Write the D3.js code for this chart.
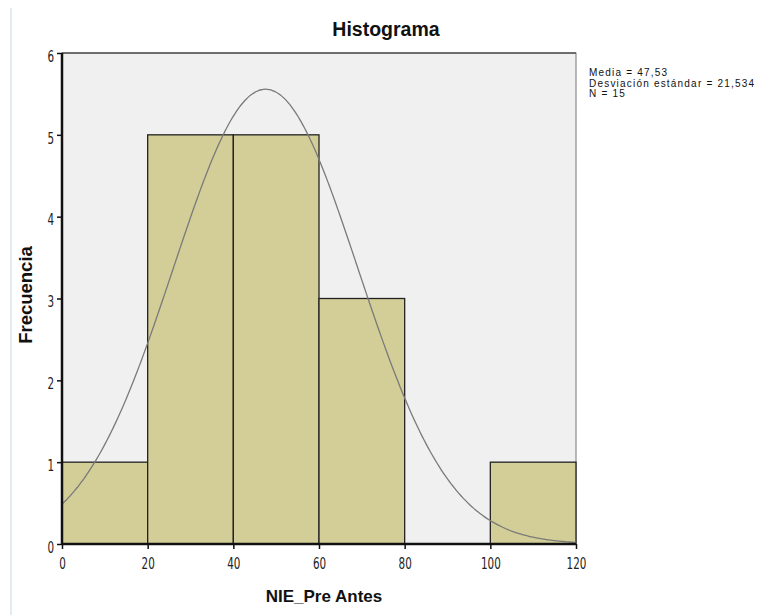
<!DOCTYPE html>
<html><head><meta charset="utf-8">
<script src="https://cdn.jsdelivr.net/npm/d3@7"></script>
<style>body{margin:0;background:#fff}</style>
</head><body>
<svg id="c" width="765" height="615"></svg>
<script>
const binStarts = [0, 20, 40, 60, 80, 100];
const binWidth = 20;
const counts = [1, 5, 5, 3, 0, 1];
const xTicks = [0, 20, 40, 60, 80, 100, 120];
const yTicks = [0, 1, 2, 3, 4, 5, 6];
const mean = 47.53, sd = 21.534, n = 15;
const statsLines = ["Media = 47,53", "Desviación estándar = 21,534", "N = 15"];

const svg = d3.select("#c");
const L = 62, R = 576, T = 53, B = 544;
const x = d3.scaleLinear().domain([0, 120]).range([L, R]);
const y = d3.scaleLinear().domain([0, 6]).range([B, T]);

svg.append("line").attr("x1", 11).attr("x2", 11).attr("y1", 8).attr("y2", 615)
  .attr("stroke", "#c5d5e8").attr("stroke-width", 1);

svg.append("rect").attr("x", L).attr("y", T).attr("width", R - L).attr("height", B - T)
  .attr("fill", "#f0f0f0").attr("stroke", "#777").attr("stroke-width", 1);
svg.append("line").attr("x1", L).attr("x2", R).attr("y1", T).attr("y2", T)
  .attr("stroke", "#555").attr("stroke-width", 1.5);

svg.append("g").selectAll("rect").data(binStarts.map((s, i) => ({s, c: counts[i]})).filter(d => d.c > 0))
  .join("rect")
  .attr("x", d => x(d.s)).attr("width", d => x(d.s + binWidth) - x(d.s))
  .attr("y", d => y(d.c)).attr("height", d => y(0) - y(d.c))
  .attr("fill", "#d3ce97").attr("stroke", "#222").attr("stroke-width", 1.3);

const pts = d3.range(0, 120.01, 0.5).map(v => [v, n * binWidth * Math.exp(-0.5 * ((v - mean) / sd) ** 2) / (sd * Math.sqrt(2 * Math.PI))]);
svg.append("path").datum(pts)
  .attr("d", d3.line().x(d => x(d[0])).y(d => y(d[1])).curve(d3.curveBasis))
  .attr("fill", "none").attr("stroke", "#7a7a7a").attr("stroke-width", 1.3);

const tickFont = "'DejaVu Sans Condensed', 'Liberation Sans Narrow', sans-serif";
const yAxis = svg.append("g").attr("transform", `translate(${L},0)`)
  .call(d3.axisLeft(y).tickValues(yTicks).tickSize(5).tickFormat(d3.format("d")));
const xAxis = svg.append("g").attr("transform", `translate(0,${B})`)
  .call(d3.axisBottom(x).tickValues(xTicks).tickSize(5).tickFormat(d3.format("d")));
[yAxis, xAxis].forEach(a => {
  a.select(".domain").attr("stroke", "#111").attr("stroke-width", 2.5);
  a.selectAll(".tick line").attr("stroke", "#111").attr("stroke-width", 1.5);
  a.selectAll(".tick text").attr("font-family", tickFont).attr("font-size", 15).attr("fill", "#222")
    .attr("textLength", function() { return this.textContent.length * 6.6; })
    .attr("lengthAdjust", "spacingAndGlyphs");
});
yAxis.select(".domain").attr("d", `M0,${B}V${T}`);
xAxis.select(".domain").attr("d", `M${L},0H${R}`);
yAxis.selectAll(".tick text").attr("x", -8).attr("dy", "0.55em");
xAxis.selectAll(".tick text").attr("y", 14);

svg.append("text").attr("x", 386).attr("y", 36).attr("text-anchor", "middle")
  .attr("font-family", "'Liberation Sans', Arial, sans-serif").attr("font-weight", "bold")
  .attr("font-size", 19.5).attr("fill", "#111").text("Histograma");

svg.append("text").attr("x", 324).attr("y", 602).attr("text-anchor", "middle")
  .attr("font-family", "'Liberation Sans', Arial, sans-serif").attr("font-weight", "bold")
  .attr("font-size", 17).attr("fill", "#111").text("NIE_Pre Antes");

svg.append("text").attr("transform", "translate(32,295) rotate(-90)").attr("text-anchor", "middle")
  .attr("font-family", "'Liberation Sans', Arial, sans-serif").attr("font-weight", "bold")
  .attr("font-size", 18.5).attr("fill", "#111").text("Frecuencia");

svg.append("g").selectAll("text").data(statsLines).join("text")
  .attr("x", 589).attr("y", (d, i) => 76 + i * 10.5)
  .attr("font-family", "'Liberation Sans', Arial, sans-serif").attr("font-size", 10)
  .attr("letter-spacing", 1.2).attr("fill", "#111")
  .text(d => d);
</script>
</body></html>
